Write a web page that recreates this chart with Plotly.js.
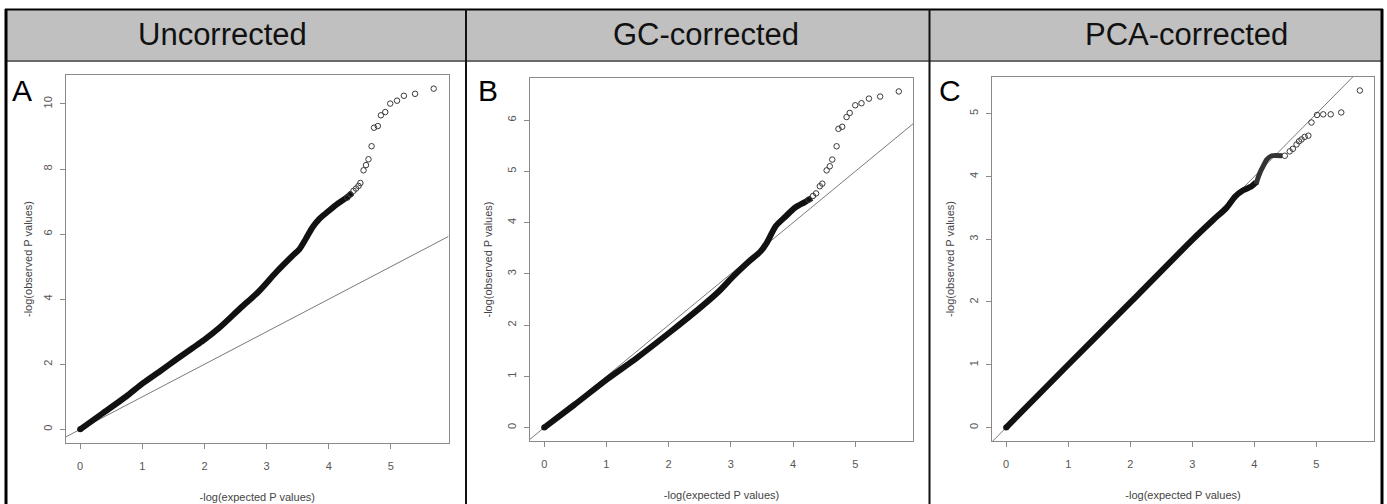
<!DOCTYPE html>
<html>
<head>
<meta charset="utf-8">
<script src="https://cdn.plot.ly/plotly-3.0.1.min.js"></script>
<style>html,body{margin:0;padding:0;background:#fff;}#chart{width:1387px;height:504px;}</style>
</head>
<body>
<div id="chart"></div>
<script>
// ---------- DATA ----------
const panelTitles = ["Uncorrected", "GC-corrected", "PCA-corrected"];
const panelLetters = ["A", "B", "C"];
const xAxisTitle = "-log(expected P values)";
const yAxisTitle = "-log(observed P values)";
const xTicks = [0, 1, 2, 3, 4, 5];
const yTicksA = [0, 2, 4, 6, 8, 10];
const yTicksB = [0, 1, 2, 3, 4, 5, 6];
const yTicksC = [0, 1, 2, 3, 4, 5];

// Panel A (uncorrected): dense part of the QQ curve
const expA = [0, 0.36, 0.74, 1.01, 1.28, 1.54, 1.81, 1.99, 2.24, 2.56, 2.88, 3.15, 3.42, 3.53, 3.63, 3.74, 3.85, 3.96, 4.12, 4.28, 4.38];
const obsA = [0, 0.49, 1.01, 1.42, 1.78, 2.14, 2.50, 2.74, 3.12, 3.69, 4.25, 4.82, 5.34, 5.54, 5.85, 6.21, 6.47, 6.65, 6.90, 7.11, 7.27];
// Panel A tail (individual points)
const expAtail = [4.30, 4.35, 4.40, 4.44, 4.48, 4.51, 4.56, 4.60, 4.64, 4.69, 4.73, 4.79, 4.84, 4.91, 4.99, 5.10, 5.21, 5.39, 5.69];
const obsAtail = [7.12, 7.22, 7.33, 7.40, 7.48, 7.57, 7.96, 8.12, 8.30, 8.70, 9.27, 9.32, 9.65, 9.75, 10.01, 10.10, 10.25, 10.31, 10.47];

// Panel B (GC-corrected)
const expB = [0, 0.48, 1.01, 1.49, 2.01, 2.50, 2.81, 3.03, 3.29, 3.48, 3.58, 3.72, 3.88, 4.03, 4.19, 4.30];
const obsB = [0, 0.44, 0.94, 1.36, 1.85, 2.33, 2.66, 2.94, 3.24, 3.44, 3.61, 3.93, 4.12, 4.29, 4.40, 4.48];
const expBtail = [4.25, 4.32, 4.37, 4.43, 4.47, 4.54, 4.59, 4.63, 4.70, 4.73, 4.79, 4.86, 4.91, 5.00, 5.10, 5.22, 5.40, 5.70];
const obsBtail = [4.45, 4.52, 4.57, 4.71, 4.76, 5.02, 5.10, 5.23, 5.49, 5.83, 5.87, 6.06, 6.14, 6.29, 6.33, 6.42, 6.46, 6.56];

// Panel C (PCA-corrected)
const expC = [0, 1.00, 2.01, 3.00, 3.34, 3.55, 3.69, 3.82, 3.95, 4.03];
const obsC = [0, 1.00, 2.00, 2.99, 3.31, 3.50, 3.68, 3.78, 3.84, 3.91];
const expC2 = [4.03, 4.05, 4.09, 4.14, 4.20, 4.28, 4.45];
const obsC2 = [3.88, 3.95, 4.06, 4.16, 4.27, 4.33, 4.33];
const expCtail = [4.49, 4.57, 4.62, 4.68, 4.72, 4.76, 4.81, 4.87, 4.92, 5.01, 5.11, 5.23, 5.40, 5.70];
const obsCtail = [4.33, 4.40, 4.44, 4.51, 4.56, 4.59, 4.63, 4.65, 4.86, 4.98, 4.99, 4.99, 5.02, 5.37];

// Reference line y = intercept + slope * x
const refIntercept = 0;
const refSlope = 1;

// ---------- LAYOUT HELPERS ----------
const W = 1387, H = 504;
const px = x => x / W;
const py = y => 1 - y / H;

function rRange(arrs) {
  let lo = Infinity, hi = -Infinity;
  arrs.forEach(a => a.forEach(v => { if (v < lo) lo = v; if (v > hi) hi = v; }));
  const d = (hi - lo) * 0.04;
  return [lo - d, hi + d];
}

const panels = [
  {dx: [66, 448.5], dy: [75, 443], ys: [obsA, obsAtail], extra: null, yt: yTicksA, ySt: 6},
  {dx: [530, 913], dy: [78, 441], ys: [obsB, obsBtail], extra: null, yt: yTicksB, ySt: 10},
  {dx: [992, 1374], dy: [77, 441], ys: [obsC, obsC2, obsCtail], extra: [expC2, obsC2], yt: yTicksC, ySt: 10}
];

const allX = [expA, expAtail, expB, expBtail, expC, expC2, expCtail];
const xr = rRange(allX);

const traces = [];
const layout = {
  width: W, height: H,
  margin: {l: 0, r: 0, t: 0, b: 0},
  paper_bgcolor: '#ffffff', plot_bgcolor: '#ffffff',
  showlegend: false,
  font: {family: 'Liberation Sans, Arial, sans-serif'},
  shapes: [], annotations: []
};

const denseX = [expA, expB, expC];
const denseY = [obsA, obsB, obsC];
const tailX = [expAtail, expBtail, expCtail];
const tailY = [obsAtail, obsBtail, obsCtail];

panels.forEach((p, i) => {
  const n = i === 0 ? '' : String(i + 1);
  const xa = 'x' + n, ya = 'y' + n;
  const yr = rRange(p.ys);
  // reference line
  traces.push({
    x: [xr[0], xr[1]], y: [refIntercept + refSlope * xr[0], refIntercept + refSlope * xr[1]],
    xaxis: xa, yaxis: ya, mode: 'lines', line: {color: '#7a7a7a', width: 1}, hoverinfo: 'skip'
  });
  // dense band of points
  traces.push({
    x: denseX[i], y: denseY[i], xaxis: xa, yaxis: ya, mode: 'lines',
    line: {color: '#111111', width: 6, shape: 'spline', smoothing: 0.7}, hoverinfo: 'skip'
  });
  // start-point cap (first observed point)
  traces.push({
    x: [denseX[i][0]], y: [denseY[i][0]], xaxis: xa, yaxis: ya, mode: 'markers',
    marker: {symbol: 'circle', size: 6, color: '#111111'}, hoverinfo: 'skip'
  });
  if (p.extra) {
    traces.push({
      x: p.extra[0], y: p.extra[1], xaxis: xa, yaxis: ya, mode: 'lines',
      line: {color: '#333333', width: 5, shape: 'spline', smoothing: 0.7}, hoverinfo: 'skip'
    });
  }
  // sparse tail points
  traces.push({
    x: tailX[i], y: tailY[i], xaxis: xa, yaxis: ya, mode: 'markers',
    marker: {symbol: 'circle-open', size: 5.5, color: '#3a3a3a', line: {width: 1, color: '#3a3a3a'}},
    hoverinfo: 'skip'
  });

  const axCommon = {
    showgrid: false, zeroline: false, showline: true, mirror: true,
    linecolor: '#8a8a8a', linewidth: 1, ticks: 'outside', ticklen: 5,
    tickcolor: '#8a8a8a', tickwidth: 1,
    tickfont: {size: 11, color: '#555555', family: 'Liberation Sans, Arial, sans-serif'}
  };
  layout['xaxis' + n] = Object.assign({}, axCommon, {
    domain: [px(p.dx[0]), px(p.dx[1])], range: xr, anchor: ya,
    tickmode: 'array', tickvals: xTicks, ticktext: xTicks.map(String),
    ticklabelstandoff: 8,
    title: {text: xAxisTitle, font: {size: 11, color: '#444444'}, standoff: 22}
  });
  layout['yaxis' + n] = Object.assign({}, axCommon, {
    domain: [py(p.dy[1]), py(p.dy[0])], range: yr, anchor: xa,
    tickmode: 'array', tickvals: p.yt, ticktext: p.yt.map(String), tickangle: -90,
    ticklabelstandoff: 4,
    title: {text: yAxisTitle, font: {size: 11, color: '#444444'}, standoff: p.ySt}
  });
});

// ---------- FRAME / HEADER ----------
const sh = layout.shapes;
sh.push({type: 'rect', xref: 'paper', yref: 'paper', x0: px(6), x1: px(1382), y0: py(60), y1: py(10), fillcolor: '#c0c0c0', line: {width: 0}, layer: 'below'});
sh.push({type: 'line', xref: 'paper', yref: 'paper', x0: px(6), x1: px(1382), y0: py(61), y1: py(61), line: {color: '#6a6a6a', width: 2}});
sh.push({type: 'line', xref: 'paper', yref: 'paper', x0: px(5), x1: px(1383), y0: py(9.5), y1: py(9.5), line: {color: '#000000', width: 2}});
sh.push({type: 'line', xref: 'paper', yref: 'paper', x0: px(6), x1: px(6), y0: py(9), y1: py(504), line: {color: '#000000', width: 3}});
sh.push({type: 'line', xref: 'paper', yref: 'paper', x0: px(1382), x1: px(1382), y0: py(9), y1: py(504), line: {color: '#000000', width: 3}});
sh.push({type: 'line', xref: 'paper', yref: 'paper', x0: px(466), x1: px(466), y0: py(9), y1: py(504), line: {color: '#111111', width: 2}});
sh.push({type: 'line', xref: 'paper', yref: 'paper', x0: px(929.5), x1: px(929.5), y0: py(9), y1: py(504), line: {color: '#111111', width: 2}});

const titleX = [222, 706, 1186];
const letterX = [22, 488, 950];
panelTitles.forEach((t, i) => {
  layout.annotations.push({text: t, xref: 'paper', yref: 'paper', x: px(titleX[i]), y: py(35),
    xanchor: 'center', yanchor: 'middle', showarrow: false,
    font: {size: 31, color: '#111111', family: 'Liberation Sans, Arial, sans-serif'}});
  layout.annotations.push({text: panelLetters[i], xref: 'paper', yref: 'paper', x: px(letterX[i]), y: py(90),
    xanchor: 'center', yanchor: 'middle', showarrow: false,
    font: {size: 30, color: '#000000', family: 'Liberation Sans, Arial, sans-serif'}});
});

Plotly.newPlot('chart', traces, layout, {displayModeBar: false, staticPlot: true});
</script>
</body>
</html>
